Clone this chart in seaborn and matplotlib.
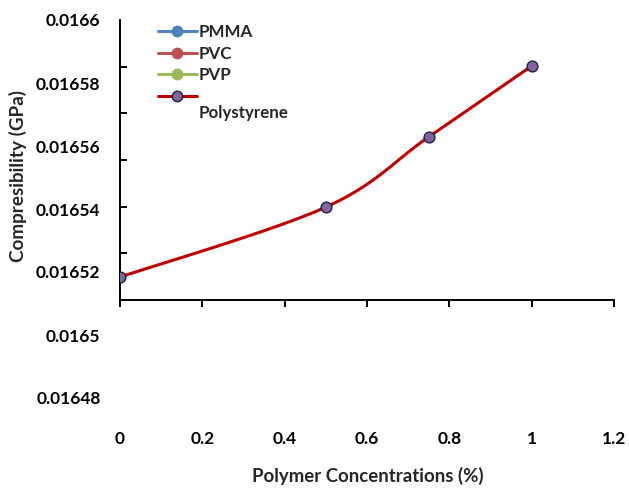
import numpy as np
import pandas as pd
import matplotlib
matplotlib.use('Agg')
import matplotlib.pyplot as plt
import seaborn as sns

# values
conc = [0, 0.5, 0.75, 1]
polystyrene = [0.0165184, 0.0165406, 0.0165629, 0.0165854]
series_names = ['PMMA', 'PVC', 'PVP', 'Polystyrene']
series_colors = ['#4F81BD', '#C0504D', '#9BBB59', '#C00000']
x_ticks = [0, 0.2, 0.4, 0.6, 0.8, 1, 1.2]
x_labels = ['0', '0.2', '0.4', '0.6', '0.8', '1', '1.2']
y_ticks = [0.01648, 0.0165, 0.01652, 0.01654, 0.01656, 0.01658, 0.0166]
y_labels = ['0.01648', '0.0165', '0.01652', '0.01654', '0.01656', '0.01658', '0.0166']
y_min, y_max = 0.01648, 0.0166
x_cross = 0.0165111   # where the x axis crosses the y axis


def smooth_line(x, y, n=40):
  # Excel style smoothed line (bezier through points)
  x = np.asarray(x, float)
  y = np.asarray(y, float)
  px = np.concatenate([[x[0]], x, [x[-1]]])
  py = np.concatenate([[y[0]], y, [y[-1]]])
  xs, ys = [], []
  t = np.linspace(0, 1, n)
  for i in range(1, len(px) - 2):
    p0 = np.array([px[i], py[i]])
    p3 = np.array([px[i + 1], py[i + 1]])
    c1 = p0 + (np.array([px[i + 1], py[i + 1]]) - np.array([px[i - 1], py[i - 1]])) / 6
    c2 = p3 - (np.array([px[i + 2], py[i + 2]]) - np.array([px[i], py[i]])) / 6
    for tt in t:
      b = ((1 - tt) ** 3) * p0 + 3 * ((1 - tt) ** 2) * tt * c1 + 3 * (1 - tt) * tt ** 2 * c2 + tt ** 3 * p3
      xs.append(b[0])
      ys.append(b[1])
  return xs, ys


sns.set_style('white')
plt.rcParams['font.family'] = ['Lato', 'DejaVu Sans']
plt.rcParams['font.weight'] = 'bold'

fig = plt.figure(figsize=(6.29, 4.93), dpi=100)
ax = fig.add_axes([120 / 629, 1 - 398 / 493, 494 / 629, 378 / 493])

# empty series only show in the legend
for name, col in zip(series_names[:3], series_colors[:3]):
  ax.plot([], [], color=col, lw=2.2, marker='o', ms=7.5, mec=col, label=name)

sx, sy = smooth_line(conc, polystyrene)
sns.lineplot(x=sx, y=sy, sort=False, estimator=None, color=series_colors[3], lw=2.2, ax=ax)
sns.scatterplot(x=conc, y=polystyrene, color='#8064A2', edgecolor='#1F1F3A', linewidth=1.0,
                s=60, zorder=5, ax=ax)
ax.plot([], [], color=series_colors[3], lw=2.2, marker='o', ms=7.5, mfc='#8064A2',
        mec='#1F1F3A', label=series_names[3])

ax.set_xlim(0, 1.2)
ax.set_ylim(y_min, y_max)

for s in ['top', 'right']:
  ax.spines[s].set_visible(False)
ax.spines['left'].set_bounds(x_cross, y_max)
ax.spines['bottom'].set_position(('data', x_cross))
for s in ['left', 'bottom']:
  ax.spines[s].set_color('black')
  ax.spines[s].set_linewidth(1.4)

ax.set_xticks(x_ticks)
ax.set_xticklabels(x_labels)
ax.set_yticks(y_ticks)
ax.set_yticklabels(y_labels)
ax.set_yticks(np.linspace(y_max, x_cross, 7)[:-1], minor=True)

ax.tick_params(axis='x', which='major', direction='out', length=5, width=1.4, pad=89,
               labelsize=12.5, colors='black', bottom=True)
ax.tick_params(axis='y', which='major', length=0, pad=14, labelsize=12.5, colors='black')
ax.tick_params(axis='y', which='minor', direction='in', length=5, width=1.4, left=True,
               colors='black')

ax.set_xlabel('Polymer Concentrations (%)', fontsize=13.4, fontweight='bold')
ax.xaxis.set_label_coords((368 - 120) / 494, (398 - 476) / 378)
ax.xaxis.label.set_va('center')
ax.set_ylabel('Compresibility (GPa)', fontsize=13.6, fontweight='bold')
ax.yaxis.set_label_coords((18 - 120) / 494, (398 - 176) / 378)
ax.yaxis.label.set_va('center')

leg = ax.legend(loc='upper left', bbox_to_anchor=((158 - 120) / 494, (398 - 24) / 378),
                frameon=False, fontsize=12.2, handlelength=2.3, handletextpad=0.1,
                labelspacing=0.33, borderpad=0, borderaxespad=0)
# the last label wraps onto a second line in the original
leg.get_texts()[3].set_position((0, -16))

fig.savefig('out.png', dpi=100)
